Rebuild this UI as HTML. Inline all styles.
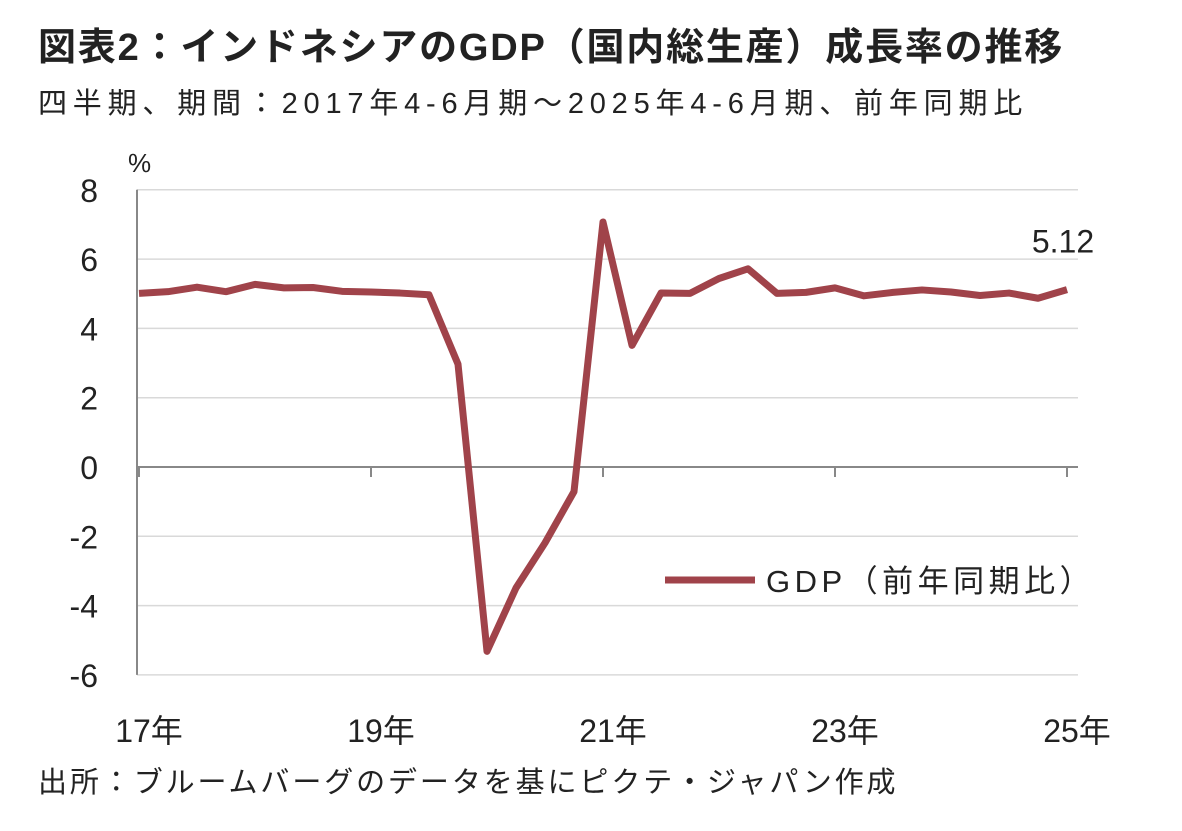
<!DOCTYPE html>
<html><head><meta charset="utf-8"><style>
body{margin:0;background:#fff;}
svg text{font-family:"Liberation Sans","Noto Sans CJK JP",sans-serif;fill:#222;}
</style></head><body>
<svg width="1182" height="826" viewBox="0 0 1182 826">
<text x="38" y="60" font-size="38" font-weight="bold" letter-spacing="1.8">図表2：インドネシアのGDP（国内総生産）成長率の推移</text>
<text x="38" y="113" font-size="29" letter-spacing="5.8">四半期、期間：2017年4-6月期～2025年4-6月期、前年同期比</text>
<text x="128" y="172" font-size="26">%</text>
<g id="grid"></g><g id="yt"></g><g id="xt"></g>
<path id="line" fill="none" stroke="#a0434a" stroke-width="7" stroke-linejoin="round"/>
<text id="lastlbl" font-size="32" text-anchor="middle"></text>
<line x1="665" y1="580" x2="755" y2="580" stroke="#a0434a" stroke-width="7"/>
<text x="766" y="592" font-size="31" letter-spacing="4.5">GDP（前年同期比）</text>
<text x="38" y="792" font-size="29" letter-spacing="2.9">出所：ブルームバーグのデータを基にピクテ・ジャパン作成</text>
</svg>
<script>
const values=[5.01,5.06,5.19,5.06,5.27,5.17,5.18,5.07,5.05,5.02,4.97,2.97,-5.32,-3.49,-2.19,-0.71,7.07,3.51,5.02,5.01,5.44,5.72,5.01,5.04,5.17,4.94,5.04,5.11,5.05,4.95,5.02,4.87,5.12];
const yTicks=[8,6,4,2,0,-2,-4,-6];
const xLabels=["17年","19年","21年","23年","25年"];
const xLabelIdx=[0,8,16,24,32];
const NS="http://www.w3.org/2000/svg";
const X=i=>139+i*29, Y=v=>467-v*34.65;
function mk(t,a,p){const e=document.createElementNS(NS,t);for(const k in a)e.setAttribute(k,a[k]);p.appendChild(e);return e;}
const g=document.getElementById('grid'),yt=document.getElementById('yt'),xt=document.getElementById('xt');
yTicks.forEach(v=>{
 if(v!==0){const l=mk('line',{x1:137,x2:1078,y1:Y(v),y2:Y(v),stroke:'#d9d9d9','stroke-width':1.5},g);
 
 }
 const t=mk('text',{x:98,y:Y(v)+12,'font-size':32,'text-anchor':'end'},yt);t.textContent=v;
 
 
});
const ax=mk('line',{x1:137,x2:1078,y1:Y(0),y2:Y(0),stroke:'#888','stroke-width':2},g);


const yax=mk('line',{x1:137,x2:137,y1:Y(8),y2:Y(-6),stroke:'#888','stroke-width':2},g);


xLabelIdx.forEach((ix,k)=>{
 const tk=mk('line',{x1:X(ix),x2:X(ix),y1:Y(0),y2:Y(0)+10,stroke:'#888','stroke-width':2},xt);
 
 
 const t=mk('text',{x:X(ix)+10,y:742,'font-size':32,'text-anchor':'middle'},xt);t.textContent=xLabels[k];
 
 
});
document.getElementById('line').setAttribute('d',values.map((v,i)=>(i?'L':'M')+X(i)+','+Y(v)).join(''));
const ll=document.getElementById('lastlbl');const n=values.length-1;
ll.setAttribute('x',X(n)-4);ll.setAttribute('y',Y(values[n])-37);ll.textContent=values[n].toFixed(2);
</script>
</body></html>
